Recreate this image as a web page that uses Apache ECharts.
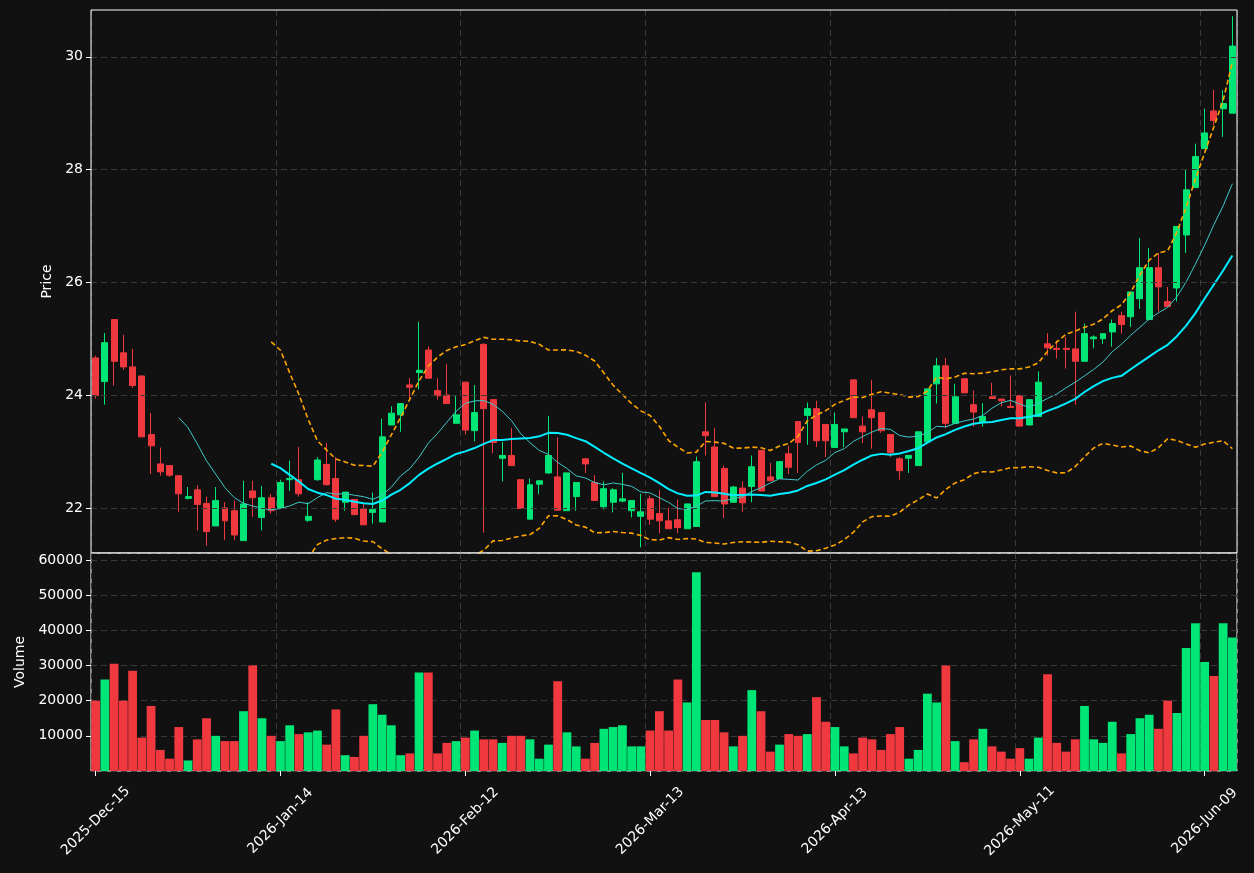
<!DOCTYPE html>
<html><head><meta charset="utf-8">
<script src="https://cdn.jsdelivr.net/npm/echarts@6/dist/echarts.min.js"></script>
<style>html,body{margin:0;padding:0;background:#111111;}#c{width:1254px;height:873px;}</style>
</head><body><div id="c"></div>
<script>
const openP=[24.66,24.24,25.34,24.75,24.5,24.34,23.3,22.78,22.75,22.57,22.17,22.32,22.08,21.68,22.0,21.95,21.42,22.3,21.83,22.18,
22.0,22.5,22.5,21.78,22.5,22.77,22.52,22.1,22.15,21.98,21.92,21.75,23.47,23.65,24.18,24.4,24.8,24.08,24.0,23.5,
24.23,23.37,24.9,23.92,22.88,22.93,22.5,21.8,22.42,22.62,22.55,21.95,22.2,22.87,22.45,22.02,22.1,22.12,21.95,21.85,
22.16,21.9,21.77,21.79,21.63,21.67,23.35,23.08,22.7,22.1,22.35,22.38,23.02,22.55,22.52,22.96,23.53,23.64,23.76,23.48,
23.07,23.35,24.27,23.45,23.74,23.69,23.3,22.87,22.88,22.75,23.17,24.2,24.52,23.5,24.29,23.83,23.53,23.97,23.93,23.8,
23.99,23.47,23.62,24.91,24.83,24.83,24.82,24.6,25.0,25.0,25.12,25.41,25.39,25.71,25.34,26.26,25.66,25.9,26.84,27.68,
28.37,29.04,29.08,29.0];
const closeP=[23.99,24.93,24.6,24.5,24.17,23.26,23.1,22.64,22.58,22.25,22.2,22.06,21.58,22.13,21.77,21.52,22.07,22.18,22.18,21.95,
22.45,22.52,22.25,21.85,22.85,22.41,21.8,22.28,21.88,21.7,21.97,23.26,23.68,23.85,24.14,24.44,24.3,23.99,23.85,23.65,
23.38,23.69,23.76,23.16,22.93,22.75,21.99,22.41,22.48,22.93,21.96,22.62,22.45,22.78,22.13,22.34,22.32,22.16,22.13,21.93,
21.8,21.77,21.63,21.65,22.07,22.82,23.28,22.2,22.07,22.37,22.09,22.73,22.3,22.48,22.82,22.72,23.16,23.76,23.19,23.19,
23.48,23.4,23.6,23.35,23.6,23.37,22.98,22.66,22.93,23.35,24.11,24.52,23.5,23.97,24.04,23.7,23.62,23.94,23.9,23.78,
23.45,23.92,24.23,24.84,24.81,24.81,24.6,25.09,25.03,25.09,25.27,25.25,25.83,26.26,26.26,25.92,25.57,26.99,27.64,28.23,
28.65,28.87,29.17,30.19];
const highP=[24.7,25.1,25.34,25.07,24.82,24.34,23.68,23.07,22.75,22.57,22.37,22.4,22.2,22.37,22.1,22.13,22.48,22.48,22.39,22.25,
22.5,22.84,23.08,22.1,22.9,23.15,22.9,22.28,22.15,22.07,22.27,23.58,23.8,23.85,24.3,25.3,24.86,24.3,24.55,24.0,
24.23,24.18,24.92,23.92,23.17,23.42,22.5,22.52,22.48,23.63,23.25,22.62,22.45,22.87,22.58,22.47,22.35,22.62,22.13,22.25,
22.22,22.32,22.0,22.15,22.07,22.91,23.87,23.42,22.75,22.39,22.47,22.93,23.02,22.8,22.82,23.1,23.53,23.87,23.9,23.48,
23.69,23.4,24.27,23.62,24.27,23.69,23.3,22.9,22.93,23.35,24.11,24.66,24.66,24.2,24.29,24.08,23.86,24.22,23.93,24.35,
23.99,23.92,24.42,25.1,24.97,25.03,25.48,25.27,25.06,25.09,25.34,25.48,25.83,26.79,26.61,26.52,25.92,26.99,28.01,28.46,
29.08,29.41,29.41,30.72];
const lowP=[23.94,23.83,24.17,24.45,24.13,23.26,22.6,22.57,22.55,21.93,22.15,21.6,21.33,21.68,21.43,21.43,21.42,21.84,21.6,21.9,
22.0,22.3,22.2,21.75,22.48,22.4,21.75,21.95,21.88,21.7,21.72,21.75,23.47,23.35,23.9,24.1,24.3,23.92,23.85,23.5,
23.3,23.18,21.56,22.97,22.47,22.75,21.99,21.8,22.24,22.6,21.96,21.95,21.95,22.62,22.13,21.97,21.92,22.1,21.83,21.3,
21.7,21.55,21.63,21.55,21.63,21.67,22.93,22.2,21.82,22.1,21.93,22.1,22.3,22.48,22.52,22.6,22.62,23.12,23.08,22.9,
23.07,23.08,23.6,23.15,23.05,23.33,22.9,22.5,22.62,22.75,23.17,23.85,23.42,23.5,24.04,23.44,23.44,23.94,23.8,23.78,
23.45,23.47,23.62,24.7,24.65,24.47,23.83,24.6,24.83,24.91,24.86,25.09,25.21,25.53,25.34,25.48,25.57,25.66,26.52,27.68,
28.37,28.79,28.58,29.0];
const volume=[20000,26000,30500,20000,28500,9500,18500,6000,3500,12500,3000,9000,15000,10000,8500,8500,17000,30000,15000,10000,
8500,13000,10500,11000,11500,7500,17500,4500,4000,10000,19000,16000,13000,4500,5000,28000,28000,5000,8000,8500,
9500,11500,9000,9000,8000,10000,10000,9000,3500,7500,25500,11000,7000,3500,8000,12000,12500,13000,7000,7000,
11500,17000,11500,26000,19500,56500,14500,14500,11000,7000,10000,23000,17000,5500,7500,10500,10000,10500,21000,14000,
12500,7000,5000,9500,9000,6000,10500,12500,3500,6000,22000,19500,30000,8500,2500,9000,12000,7000,5500,3500,
6500,3500,9500,27500,8000,5500,9000,18500,9000,8000,14000,5000,10500,15000,16000,12000,20000,16500,35000,42000,
31000,27000,42000,38000];
const priceTicks=[22,24,26,28,30];
const holidays=['2025-12-25','2026-01-01','2026-01-19','2026-02-16','2026-04-03','2026-05-25'];
const MON=['Jan','Feb','Mar','Apr','May','Jun','Jul','Aug','Sep','Oct','Nov','Dec'];

const dates=[];
{let d=new Date(Date.UTC(2025,11,15));
 while(dates.length<closeP.length){
  const iso=d.toISOString().slice(0,10);const wd=d.getUTCDay();
  if(wd!==0&&wd!==6&&!holidays.includes(iso)){
    dates.push(d.getUTCFullYear()+'-'+MON[d.getUTCMonth()]+'-'+String(d.getUTCDate()).padStart(2,'0'));}
  d=new Date(d.getTime()+86400000);}}

function sma(arr,n){return arr.map((v,i)=>{if(i<n-1)return '-';let s=0;for(let k=i-n+1;k<=i;k++)s+=arr[k];return s/n;});}
function band(arr,n,sign){const m=sma(arr,n);return arr.map((v,i)=>{if(i<n-1)return '-';let s=0;for(let k=i-n+1;k<=i;k++)s+=(arr[k]-m[i])**2;return m[i]+sign*2*Math.sqrt(s/(n-1));});}

const UP='#00e676',DOWN='#f0393f';
const candle=openP.map((o,i)=>[o,closeP[i],lowP[i],highP[i]]);
const vols=volume.map((v,i)=>({value:v,itemStyle:{color:closeP[i]>=openP[i]?UP:DOWN}}));
const font={fontFamily:'DejaVu Sans',fontSize:14,color:'#ffffff'};
const chart=echarts.init(document.getElementById('c'));
chart.setOption({
 backgroundColor:'#111111',animation:false,
 grid:[{left:91,right:17,top:10,height:543,show:true,borderColor:'#ffffff',borderWidth:1,z:10},
       {left:91,right:17,top:553,bottom:102,show:true,borderColor:'#ffffff',borderWidth:1}],
 xAxis:[{type:'category',data:dates,gridIndex:0,boundaryGap:true,axisLine:{show:false},axisTick:{show:false},axisLabel:{show:false},
         splitLine:{show:true,interval:19,lineStyle:{color:'#3a3a3a',type:[6,4]}}},
        {type:'category',data:dates,gridIndex:1,boundaryGap:true,axisLine:{show:false},
         axisTick:{show:true,interval:19,alignWithLabel:true,lineStyle:{color:'#ffffff'},length:5},
         axisLabel:Object.assign({interval:19,rotate:45,margin:50,align:'center',verticalAlign:'middle'},font),
         splitLine:{show:true,interval:19,lineStyle:{color:'#3a3a3a',type:[6,4]}}}],
 yAxis:[{type:'value',gridIndex:0,min:21.2,max:30.83,name:'Price',nameLocation:'middle',nameGap:34,nameTextStyle:font,
         axisLine:{show:false},splitLine:{show:false},
         axisTick:{show:true,customValues:priceTicks,lineStyle:{color:'#ffffff'},length:5},
         axisLabel:Object.assign({customValues:priceTicks},font)},
        {type:'value',gridIndex:1,min:0,max:62000,interval:10000,name:'Volume',nameLocation:'middle',nameGap:60,nameTextStyle:font,
         axisLine:{show:false},axisTick:{show:true,lineStyle:{color:'#ffffff'},length:5},
         axisLabel:Object.assign({showMaxLabel:false,showMinLabel:false,formatter:v=>String(v)},font),
         splitLine:{show:true,lineStyle:{color:'#3a3a3a',type:[6,4]}}}],
 series:[
  {type:'candlestick',xAxisIndex:0,yAxisIndex:0,data:candle,barWidth:'70%',
   itemStyle:{color:UP,color0:DOWN,borderColor:UP,borderColor0:DOWN,borderWidth:1},
   markLine:{silent:true,symbol:'none',label:{show:false},lineStyle:{color:'#3a3a3a',type:[6,4],width:1},
     data:priceTicks.map(v=>({yAxis:v}))}},
  {type:'line',xAxisIndex:0,yAxisIndex:0,data:sma(closeP,10),showSymbol:false,lineStyle:{color:'#40c8c8',width:1},z:3},
  {type:'line',xAxisIndex:0,yAxisIndex:0,data:sma(closeP,20),showSymbol:false,lineStyle:{color:'#00eeff',width:2},z:3},
  {type:'line',xAxisIndex:0,yAxisIndex:0,data:band(closeP,20,1),showSymbol:false,lineStyle:{color:'#ffa500',width:1.6,type:[5,3]},z:3},
  {type:'line',xAxisIndex:0,yAxisIndex:0,data:band(closeP,20,-1),showSymbol:false,lineStyle:{color:'#ffa500',width:1.6,type:[5,3]},z:3},
  {type:'bar',xAxisIndex:1,yAxisIndex:1,data:vols,barWidth:'95%'}
 ]
});
</script></body></html>
